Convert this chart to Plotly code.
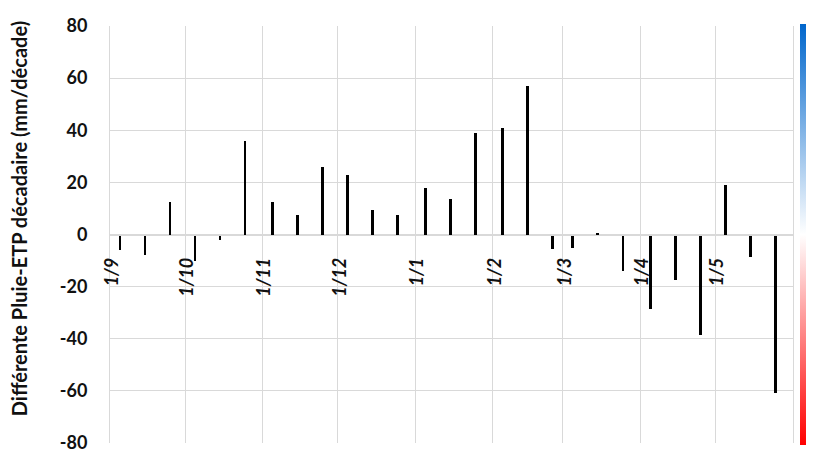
import plotly.graph_objects as go

# dekad dates (middle of each 10-day period) and rain - ETP difference (mm/decade)
dekads = [
    "2018-09-05", "2018-09-15", "2018-09-25",
    "2018-10-05", "2018-10-15", "2018-10-25",
    "2018-11-05", "2018-11-15", "2018-11-25",
    "2018-12-05", "2018-12-15", "2018-12-25",
    "2019-01-05", "2019-01-15", "2019-01-25",
    "2019-02-05", "2019-02-15", "2019-02-25",
    "2019-03-05", "2019-03-15", "2019-03-25",
    "2019-04-05", "2019-04-15", "2019-04-25",
    "2019-05-05", "2019-05-15", "2019-05-25",
]
diff_mm = [
    -6, -8, 12.5,
    -10, -2, 36,
    12.5, 7.5, 26,
    23, 9.5, 7.5,
    18, 13.5, 39,
    41, 57, -5.5,
    -5, 0.5, -14,
    -28.5, -17.5, -38.5,
    19, -8.5, -61,
]

month_ticks = ["2018-09-01", "2018-10-01", "2018-11-01", "2018-12-01",
               "2019-01-01", "2019-02-01", "2019-03-01", "2019-04-01",
               "2019-05-01", "2019-06-01"]
month_labels = ["1/9", "1/10", "1/11", "1/12", "1/1", "1/2", "1/3", "1/4", "1/5", ""]

y_ticks = [-80, -60, -40, -20, 0, 20, 40, 60, 80]
y_labels = ["-80", "-60", "-40", "-20", "0", "20", "40", "60", "80"]

DAY_MS = 86400000
GRID = "#d9d9d9"
TXT = "#111111"
FONT = "Lato"

fig = go.Figure()
fig.add_trace(go.Bar(x=dekads, y=diff_mm, width=1.1 * DAY_MS,
                     marker=dict(color="black", line=dict(width=0)),
                     showlegend=False))

# dummy trace only used to draw the blue/white/red scale on the right
fig.add_trace(go.Scatter(
    x=[None], y=[None], mode="markers", showlegend=False,
    marker=dict(color=[0], cmin=-80, cmax=80,
                colorscale=[[0, "#ff0000"], [0.5, "#ffffff"], [1, "#0066cc"]],
                showscale=True,
                colorbar=dict(thickness=6, len=1.01, x=1.0102, xanchor="left", xpad=0,
                              y=0.5, yanchor="middle", ypad=0,
                              outlinewidth=0, showticklabels=False, ticks=""))))

# page body has an 8px margin, so the figure is a bit smaller than the window
fig.update_layout(
    width=812, height=449,
    margin=dict(l=102, r=27, t=18, b=12),
    paper_bgcolor="white", plot_bgcolor="white",
    font=dict(family=FONT, color=TXT),
    bargap=0,
    xaxis=dict(
        type="date", range=["2018-09-01", "2019-06-01"],
        tickmode="array", tickvals=month_ticks, ticktext=month_labels,
        tickangle=-90, ticklabelstandoff=15, ticklabelshift=2,
        tickfont=dict(size=18, weight="bold", style="italic", color=TXT),
        showgrid=True, gridcolor=GRID, gridwidth=1,
        anchor="free", position=0.5, automargin=False,
        showline=True, linecolor=GRID, ticks="",
    ),
    yaxis=dict(
        range=[-80, 80], tickmode="array", tickvals=y_ticks, ticktext=y_labels,
        tickfont=dict(size=18, weight="bold", color=TXT),
        ticklabelstandoff=18, automargin=False,
        showgrid=True, gridcolor=GRID, gridwidth=1,
        zeroline=True, zerolinecolor=GRID, zerolinewidth=1,
        showline=True, mirror=True, linecolor=GRID, ticks="",
    ),
)

fig.add_annotation(
    text="Différente Pluie-ETP décadaire (mm/décade)",
    xref="paper", yref="paper", x=-0.133, y=0.537,
    xanchor="center", yanchor="middle", textangle=-90, showarrow=False,
    font=dict(size=20, weight="bold", color=TXT),
)

fig.write_html("out.html")
